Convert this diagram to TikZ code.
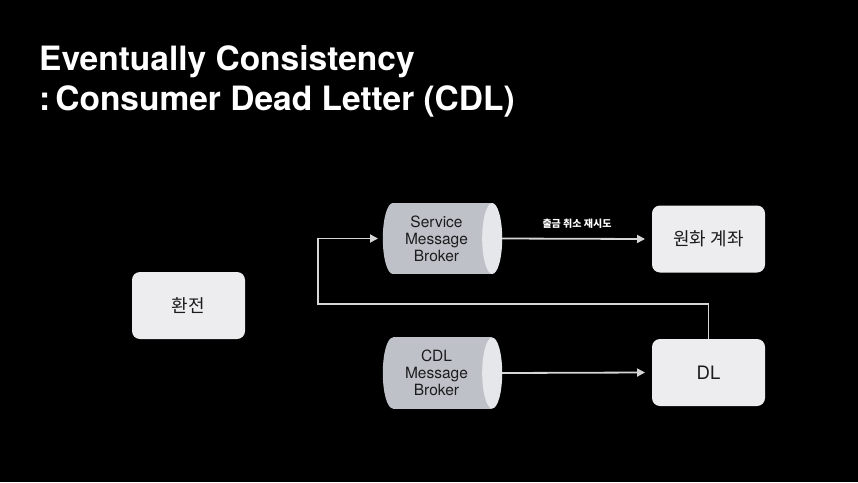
\documentclass[tikz,border=0pt]{standalone}
\usepackage{fontspec}
\setmainfont{TeX Gyre Heros}
\newfontfamily\kr{Noto Sans CJK KR}
\usetikzlibrary{arrows.meta,calc}
\definecolor{boxfill}{HTML}{EDEDEF}
\definecolor{boxtext}{HTML}{1C1C1E}
\definecolor{cylbody}{HTML}{BEC2C8}
\definecolor{cylend}{HTML}{E6E7EA}
\definecolor{linec}{HTML}{D6D6D6}
\tikzset{
  x=1pt, y=-1pt,
  boxnode/.style={fill=boxfill, rounded corners=8pt, minimum width=113pt, minimum height=67pt, text=boxtext, font=\kr\fontsize{18}{21}\selectfont, inner sep=0pt},
  cylnode/.style={minimum width=119pt, minimum height=71pt, inner sep=0pt, align=center, text=boxtext, font=\fontsize{15.5}{17}\selectfont},
  conn/.style={draw=linec, line width=1.8pt, -{Triangle[length=8pt,width=8pt]}},
  titlenode/.style={anchor=base west, text=white, font=\bfseries\fontsize{33.5}{40}\selectfont, inner sep=0pt},
}
\newcommand{\cylbg}[1]{%
  \fill[cylbody] ($(#1.north west)+(10,0)$) rectangle ($(#1.south east)+(-10,0)$);
  \fill[cylbody] ($(#1.west)+(10,0)$) ellipse [x radius=10pt, y radius=35.5pt];
  \fill[cylend] ($(#1.east)+(-10,0)$) ellipse [x radius=10pt, y radius=35.5pt];
}
\begin{document}
\begin{tikzpicture}
\fill[black] (0,0) rectangle (858,482);
\useasboundingbox (0,0) rectangle (858,482);
\node[titlenode] (t1) at (39,70) {Eventually Consistency};
\node[titlenode] (t2) at (39,110) {:\kern5pt Consumer Dead Letter (CDL)};

\node[boxnode] (fx) at (188.5,305.5) {환전};
\node[boxnode] (krw) at (708.5,239) {원화 계좌};
\node[boxnode, font=\fontsize{18.5}{22}\selectfont] (dl) at (708.5,372.5) {DL};

\node[cylnode] (svcpos) at (442.5,238.5) {};
\node[cylnode] (cdlpos) at (442.5,373) {};
\cylbg{svcpos}
\cylbg{cdlpos}
\node[cylnode, minimum width=0pt] (svc) at (436.5,238.5) {Service\\Message\\Broker};
\node[cylnode, minimum width=0pt] (cdl) at (436.5,373) {CDL\\Message\\Broker};

\draw[conn] (svcpos.east) -- (krw.west -| 645,0);
\node[text=white, font=\kr\bfseries\fontsize{10}{12}\selectfont, inner sep=0pt] (lbl) at (577,224) {출금 취소 재시도};
\draw[conn] (cdlpos.east) -- (dl.west -| 645,0);
\coordinate (lp) at (318,304);
\draw[conn] (dl.north) |- (lp) |- (svcpos.west -| 378,0);
\end{tikzpicture}
\end{document}
